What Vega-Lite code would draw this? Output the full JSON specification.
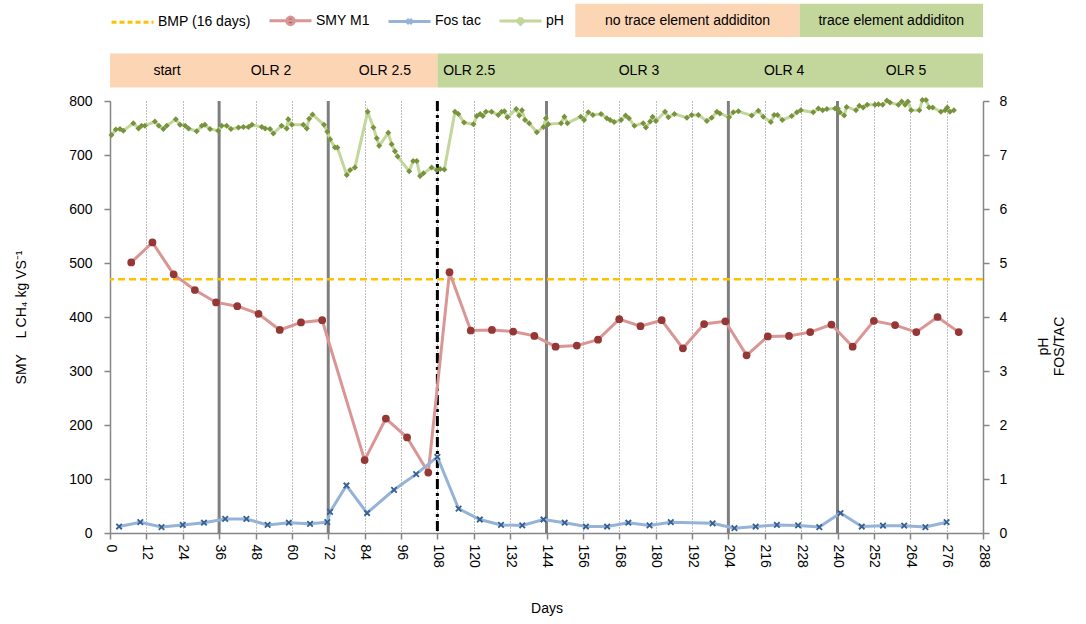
{
  "$schema": "https://vega.github.io/schema/vega-lite/v6.json",
  "width": 873,
  "height": 432,
  "autosize": {"type": "none"},
  "padding": {"left": 110, "top": 101, "right": 103, "bottom": 91},
  "background": "white",
  "config": {
    "view": {"stroke": null},
    "font": "Liberation Sans",
    "text": {"font": "Liberation Sans"},
    "axis": {"labelFont": "Liberation Sans", "titleFont": "Liberation Sans", "labelColor": "#000000", "titleColor": "#000000", "titleFontWeight": "normal", "labelFontSize": 14, "titleFontSize": 14, "domainColor": "#868686", "domainWidth": 1.5, "tickColor": "#868686", "tickWidth": 1.5, "tickSize": 6, "grid": false, "labelOverlap": false}
  },
  "datasets": {
    "smy": [
      {"day": 7, "smy": 501}, {"day": 14, "smy": 538}, {"day": 21, "smy": 479}, {"day": 28, "smy": 450}, {"day": 35, "smy": 427}, {"day": 42, "smy": 420}, {"day": 49, "smy": 406}, {"day": 56, "smy": 376}, {"day": 63, "smy": 390}, {"day": 70, "smy": 394},
      {"day": 84, "smy": 135}, {"day": 91, "smy": 212}, {"day": 98, "smy": 177}, {"day": 105, "smy": 112}, {"day": 112, "smy": 483}, {"day": 119, "smy": 375}, {"day": 126, "smy": 376}, {"day": 133, "smy": 373}, {"day": 140, "smy": 365}, {"day": 147, "smy": 345},
      {"day": 154, "smy": 347}, {"day": 161, "smy": 358}, {"day": 168, "smy": 396}, {"day": 175, "smy": 383}, {"day": 182, "smy": 394}, {"day": 189, "smy": 342}, {"day": 196, "smy": 387}, {"day": 203, "smy": 392}, {"day": 210, "smy": 329}, {"day": 217, "smy": 364},
      {"day": 224, "smy": 365}, {"day": 231, "smy": 372}, {"day": 238, "smy": 386}, {"day": 245, "smy": 345}, {"day": 252, "smy": 393}, {"day": 259, "smy": 385}, {"day": 266, "smy": 372}, {"day": 273, "smy": 400}, {"day": 280, "smy": 372}
    ],
    "fos": [
      {"day": 3, "fos": 0.12}, {"day": 10, "fos": 0.2}, {"day": 17, "fos": 0.11}, {"day": 24, "fos": 0.15}, {"day": 31, "fos": 0.19}, {"day": 38, "fos": 0.26}, {"day": 45, "fos": 0.26}, {"day": 52, "fos": 0.15}, {"day": 59, "fos": 0.19}, {"day": 66, "fos": 0.17},
      {"day": 71.7, "fos": 0.2}, {"day": 72.6, "fos": 0.39}, {"day": 78, "fos": 0.88}, {"day": 84.8, "fos": 0.37}, {"day": 93.7, "fos": 0.8}, {"day": 101, "fos": 1.09}, {"day": 108, "fos": 1.41}, {"day": 115, "fos": 0.45}, {"day": 122, "fos": 0.25}, {"day": 129, "fos": 0.15},
      {"day": 136, "fos": 0.14}, {"day": 143, "fos": 0.25}, {"day": 150, "fos": 0.19}, {"day": 157, "fos": 0.12}, {"day": 164, "fos": 0.12}, {"day": 171, "fos": 0.19}, {"day": 178, "fos": 0.14}, {"day": 185, "fos": 0.2}, {"day": 198.8, "fos": 0.18}, {"day": 206, "fos": 0.09},
      {"day": 213, "fos": 0.12}, {"day": 220, "fos": 0.15}, {"day": 227, "fos": 0.14}, {"day": 234, "fos": 0.11}, {"day": 241, "fos": 0.37}, {"day": 248, "fos": 0.12}, {"day": 255, "fos": 0.135}, {"day": 262, "fos": 0.135}, {"day": 269, "fos": 0.11}, {"day": 276, "fos": 0.2}
    ],
    "ph": [
      {"day": 0.5, "ph": 7.37}, {"day": 1.9, "ph": 7.47}, {"day": 3.3, "ph": 7.48}, {"day": 4.4, "ph": 7.45}, {"day": 7.7, "ph": 7.59}, {"day": 9.4, "ph": 7.49}, {"day": 10.4, "ph": 7.54}, {"day": 11.5, "ph": 7.54}, {"day": 14.8, "ph": 7.62}, {"day": 16.1, "ph": 7.54},
      {"day": 17.6, "ph": 7.48}, {"day": 18.7, "ph": 7.54}, {"day": 21.7, "ph": 7.66}, {"day": 23.1, "ph": 7.56}, {"day": 24.8, "ph": 7.54}, {"day": 25.9, "ph": 7.49}, {"day": 28.6, "ph": 7.44}, {"day": 30.3, "ph": 7.54}, {"day": 31.3, "ph": 7.56}, {"day": 33, "ph": 7.48},
      {"day": 35.7, "ph": 7.45}, {"day": 36.8, "ph": 7.54}, {"day": 38.5, "ph": 7.54}, {"day": 39.9, "ph": 7.48}, {"day": 42.4, "ph": 7.51}, {"day": 44, "ph": 7.52}, {"day": 45.7, "ph": 7.52}, {"day": 46.8, "ph": 7.56}, {"day": 50.1, "ph": 7.52}, {"day": 51.2, "ph": 7.49},
      {"day": 52.8, "ph": 7.48}, {"day": 53.9, "ph": 7.4}, {"day": 56.6, "ph": 7.54}, {"day": 58.3, "ph": 7.49}, {"day": 58.8, "ph": 7.66}, {"day": 60, "ph": 7.56}, {"day": 63.8, "ph": 7.56}, {"day": 64.9, "ph": 7.49}, {"day": 65.7, "ph": 7.67}, {"day": 66.8, "ph": 7.75},
      {"day": 70.6, "ph": 7.56}, {"day": 71.7, "ph": 7.43}, {"day": 72.6, "ph": 7.29}, {"day": 74.2, "ph": 7.14}, {"day": 75, "ph": 7.14}, {"day": 78.1, "ph": 6.63}, {"day": 79.2, "ph": 6.72}, {"day": 80.8, "ph": 6.77}, {"day": 85, "ph": 7.8}, {"day": 86.9, "ph": 7.51},
      {"day": 88, "ph": 7.31}, {"day": 88.8, "ph": 7.17}, {"day": 91.8, "ph": 7.41}, {"day": 92.9, "ph": 7.2}, {"day": 94, "ph": 7.07}, {"day": 94.9, "ph": 6.97}, {"day": 98.7, "ph": 6.7}, {"day": 100, "ph": 6.89}, {"day": 101.2, "ph": 6.89}, {"day": 102.3, "ph": 6.61},
      {"day": 103.4, "ph": 6.66}, {"day": 106.1, "ph": 6.77}, {"day": 107.8, "ph": 6.72}, {"day": 108.9, "ph": 6.74}, {"day": 110.3, "ph": 6.73}, {"day": 113.8, "ph": 7.8}, {"day": 114.9, "ph": 7.76}, {"day": 116.8, "ph": 7.6}, {"day": 119.9, "ph": 7.57}, {"day": 121, "ph": 7.72},
      {"day": 122.1, "ph": 7.76}, {"day": 123, "ph": 7.72}, {"day": 124, "ph": 7.8}, {"day": 125.9, "ph": 7.8}, {"day": 128.1, "ph": 7.74}, {"day": 129.2, "ph": 7.8}, {"day": 130.1, "ph": 7.81}, {"day": 131.1, "ph": 7.7}, {"day": 134, "ph": 7.85}, {"day": 135, "ph": 7.73},
      {"day": 135.9, "ph": 7.83}, {"day": 136.9, "ph": 7.65}, {"day": 138.3, "ph": 7.59}, {"day": 140.8, "ph": 7.42}, {"day": 143, "ph": 7.52}, {"day": 143.8, "ph": 7.68}, {"day": 144.6, "ph": 7.57}, {"day": 148.8, "ph": 7.59}, {"day": 149.9, "ph": 7.71}, {"day": 150.9, "ph": 7.59},
      {"day": 155.3, "ph": 7.71}, {"day": 156.4, "ph": 7.65}, {"day": 157.8, "ph": 7.79}, {"day": 159.3, "ph": 7.74}, {"day": 162, "ph": 7.76}, {"day": 163.9, "ph": 7.68}, {"day": 165, "ph": 7.65}, {"day": 166.3, "ph": 7.61}, {"day": 168.6, "ph": 7.65}, {"day": 170.1, "ph": 7.73},
      {"day": 171.2, "ph": 7.68}, {"day": 173, "ph": 7.54}, {"day": 175.9, "ph": 7.59}, {"day": 176.8, "ph": 7.51}, {"day": 178.2, "ph": 7.62}, {"day": 179, "ph": 7.71}, {"day": 180.1, "ph": 7.63}, {"day": 183.1, "ph": 7.8}, {"day": 184.2, "ph": 7.7}, {"day": 186.2, "ph": 7.76},
      {"day": 190.3, "ph": 7.69}, {"day": 191.9, "ph": 7.74}, {"day": 194.1, "ph": 7.74}, {"day": 196.9, "ph": 7.63}, {"day": 198.5, "ph": 7.69}, {"day": 200.2, "ph": 7.8}, {"day": 201.2, "ph": 7.77}, {"day": 204.2, "ph": 7.7}, {"day": 205.6, "ph": 7.79}, {"day": 207.3, "ph": 7.81},
      {"day": 211.7, "ph": 7.73}, {"day": 213.9, "ph": 7.82}, {"day": 215.5, "ph": 7.71}, {"day": 218, "ph": 7.61}, {"day": 219.1, "ph": 7.74}, {"day": 220.2, "ph": 7.74}, {"day": 221.8, "ph": 7.65}, {"day": 224.9, "ph": 7.72}, {"day": 226.6, "ph": 7.79}, {"day": 227.9, "ph": 7.83},
      {"day": 232, "ph": 7.79}, {"day": 233.7, "ph": 7.86}, {"day": 235.1, "ph": 7.83}, {"day": 236.5, "ph": 7.85}, {"day": 239.2, "ph": 7.86}, {"day": 240.1, "ph": 7.86}, {"day": 240.8, "ph": 7.79}, {"day": 242.2, "ph": 7.73}, {"day": 243, "ph": 7.89}, {"day": 246.1, "ph": 7.83},
      {"day": 247.2, "ph": 7.91}, {"day": 248.5, "ph": 7.88}, {"day": 249.8, "ph": 7.93}, {"day": 252.4, "ph": 7.93}, {"day": 253.5, "ph": 7.94}, {"day": 254.9, "ph": 7.93}, {"day": 256.3, "ph": 8.01}, {"day": 257.3, "ph": 7.97}, {"day": 260.1, "ph": 7.93}, {"day": 261.2, "ph": 7.99},
      {"day": 262.3, "ph": 7.93}, {"day": 263.2, "ph": 7.99}, {"day": 264.3, "ph": 7.83}, {"day": 267, "ph": 7.83}, {"day": 268, "ph": 8.02}, {"day": 269.2, "ph": 8.02}, {"day": 270.2, "ph": 7.88}, {"day": 271.4, "ph": 7.88}, {"day": 274.1, "ph": 7.8}, {"day": 275.5, "ph": 7.83},
      {"day": 276.2, "ph": 7.88}, {"day": 277.1, "ph": 7.8}, {"day": 278.4, "ph": 7.83}
    ],
    "olrChanges": [{"day": 36}, {"day": 72}, {"day": 144}, {"day": 204}, {"day": 240}],
    "teStart": [{"day": 108}],
    "bmp": [{"series": "BMP (16 days)", "bmp": 470}],
    "bands": [{"start": 0, "end": 108, "te": "no"}, {"start": 108, "end": 288, "te": "yes"}],
    "phases": [
      {"phase": "start", "mid": 18.8}, {"phase": "OLR 2", "mid": 53.1}, {"phase": "OLR 2.5", "mid": 90.7}, {"phase": "OLR 2.5", "mid": 118.5},
      {"phase": "OLR 3", "mid": 174.5}, {"phase": "OLR 4", "mid": 222.4}, {"phase": "OLR 5", "mid": 262.6}
    ],
    "boxes": [
      {"start": 153.5, "end": 227.5, "mid": 190.5, "te": "no", "label": "no trace element addiditon"},
      {"start": 227.5, "end": 288, "mid": 257.7, "te": "yes", "label": "trace element addiditon"}
    ]
  },
  "layer": [
    {
      "layer": [
        {
          "data": {"name": "bands"},
          "mark": {"type": "rect"},
          "encoding": {
            "x": {"field": "start", "type": "quantitative", "scale": {"domain": [0, 288], "nice": false, "zero": false}},
            "x2": {"field": "end"},
            "y": {"datum": 887.8, "type": "quantitative", "scale": {"domain": [0, 800], "nice": false}},
            "y2": {"datum": 824.8},
            "fill": {"field": "te", "type": "nominal", "scale": {"domain": ["no", "yes"], "range": ["#FCD5B5", "#C3D69B"]}, "legend": null}
          }
        },
        {
          "data": {"name": "boxes"},
          "mark": {"type": "rect"},
          "encoding": {
            "x": {"field": "start", "type": "quantitative"},
            "x2": {"field": "end"},
            "y": {"datum": 980, "type": "quantitative"},
            "y2": {"datum": 918.5},
            "fill": {"field": "te", "type": "nominal", "legend": null}
          }
        },
        {
          "data": {"name": "phases"},
          "mark": {"type": "text", "fontSize": 14, "color": "#000000", "align": "center", "baseline": "middle"},
          "encoding": {
            "x": {"field": "mid", "type": "quantitative"},
            "y": {"datum": 856, "type": "quantitative"},
            "text": {"field": "phase"}
          }
        },
        {
          "data": {"name": "boxes"},
          "mark": {"type": "text", "fontSize": 14, "color": "#000000", "align": "center", "baseline": "middle"},
          "encoding": {
            "x": {"field": "mid", "type": "quantitative"},
            "y": {"datum": 949, "type": "quantitative"},
            "text": {"field": "label"}
          }
        },
        {
          "data": {"name": "olrChanges"},
          "mark": {"type": "rule", "color": "#7F7F7F", "strokeWidth": 3},
          "encoding": {
            "x": {
              "field": "day", "type": "quantitative",
              "axis": {
                "values": [0, 12, 24, 36, 48, 60, 72, 84, 96, 108, 120, 132, 144, 156, 168, 180, 192, 204, 216, 228, 240, 252, 264, 276, 288],
                "tickCount": 40, "format": "d",
                "title": "Days", "labelAngle": 90, "labelPadding": 5, "titlePadding": 34, "labelOverlap": false,
                "grid": true, "gridDash": [1, 2], "gridColor": "#7F7F7F", "gridWidth": 1
              }
            }
          }
        },
        {
          "data": {"name": "teStart"},
          "mark": {"type": "rule", "color": "#000000", "strokeWidth": 3, "strokeDash": [10, 4, 3, 4]},
          "encoding": {"x": {"field": "day", "type": "quantitative"}}
        },
        {
          "data": {"name": "bmp"},
          "mark": {"type": "rule", "strokeWidth": 2.5, "strokeDash": [7, 4]},
          "encoding": {
            "y": {"field": "bmp", "type": "quantitative"},
            "color": {
              "field": "series", "type": "nominal",
              "scale": {"domain": ["BMP (16 days)", "SMY M1", "Fos tac", "pH"], "range": ["#FFC000", "#D99694", "#95B3D7", "#C3D69B"]},
              "legend": {
                "orient": "none", "legendX": 0, "legendY": -103, "direction": "horizontal", "title": null,
                "labelFont": "Liberation Sans", "labelFontSize": 14, "labelColor": "#000000", "labelOffset": 3,
                "symbolSize": 1764, "symbolStrokeWidth": 3, "columnPadding": 12, "symbolType": "stroke",
                "encode": {
                  "symbols": {
                    "update": {
                      "shape": {"signal": "datum.value === 'SMY M1' ? 'M-1,0H1M-0.18,0A0.18,0.18,0,1,1,0.18,0A0.18,0.18,0,1,1,-0.18,0Z' : datum.value === 'Fos tac' ? 'M-1,0H1M-0.12,-0.12L0.12,0.12M-0.12,0.12L0.12,-0.12' : datum.value === 'pH' ? 'M-1,0H1M0,-0.16L0.16,0L0,0.16L-0.16,0Z' : 'M-1,0H1'"},
                      "fill": {"signal": "datum.value === 'SMY M1' ? '#953735' : datum.value === 'pH' ? '#77933C' : 'transparent'"},
                      "strokeDash": {"signal": "datum.value === 'BMP (16 days)' ? [5, 3] : [100, 0]"}
                    }
                  }
                }
              }
            }
          }
        },
        {
          "data": {"name": "smy"},
          "mark": {"type": "line", "color": "#D99694", "strokeWidth": 3},
          "encoding": {
            "x": {"field": "day", "type": "quantitative"},
            "y": {
              "field": "smy", "type": "quantitative",
              "axis": {"values": [0, 100, 200, 300, 400, 500, 600, 700, 800], "tickCount": 20, "format": "d", "title": "SMY\u00a0\u00a0\u00a0\u00a0L CH₄ kg VS⁻¹", "labelPadding": 12, "titlePadding": 40, "grid": false}
            }
          }
        },
        {
          "data": {"name": "smy"},
          "mark": {"type": "point", "shape": "circle", "filled": true, "color": "#953735", "size": 60, "opacity": 1},
          "encoding": {
            "x": {"field": "day", "type": "quantitative"},
            "y": {"field": "smy", "type": "quantitative"}
          }
        }
      ]
    },
    {
      "layer": [
        {
          "data": {"name": "fos"},
          "mark": {"type": "line", "color": "#95B3D7", "strokeWidth": 3},
          "encoding": {
            "x": {"field": "day", "type": "quantitative"},
            "y": {
              "field": "fos", "type": "quantitative", "scale": {"domain": [0, 8], "nice": false},
              "axis": {"orient": "right", "values": [0, 1, 2, 3, 4, 5, 6, 7, 8], "tickCount": 20, "format": "d", "title": ["pH", "FOS/TAC"], "titleAngle": -90, "titleBaseline": "top", "titleY": 245, "labelPadding": 10, "titlePadding": 14, "grid": false}
            }
          }
        },
        {
          "data": {"name": "fos"},
          "mark": {"type": "point", "shape": "M-1,-1L1,1M-1,1L1,-1", "filled": false, "color": "#366092", "strokeWidth": 1.8, "size": 30, "opacity": 1},
          "encoding": {
            "x": {"field": "day", "type": "quantitative"},
            "y": {"field": "fos", "type": "quantitative"}
          }
        },
        {
          "data": {"name": "ph"},
          "mark": {"type": "line", "color": "#C3D69B", "strokeWidth": 3},
          "encoding": {
            "x": {"field": "day", "type": "quantitative"},
            "y": {"field": "ph", "type": "quantitative"}
          }
        },
        {
          "data": {"name": "ph"},
          "mark": {"type": "point", "shape": "diamond", "filled": true, "color": "#77933C", "size": 36, "opacity": 1},
          "encoding": {
            "x": {"field": "day", "type": "quantitative"},
            "y": {"field": "ph", "type": "quantitative"}
          }
        }
      ]
    }
  ],
  "resolve": {"scale": {"y": "independent"}}
}
